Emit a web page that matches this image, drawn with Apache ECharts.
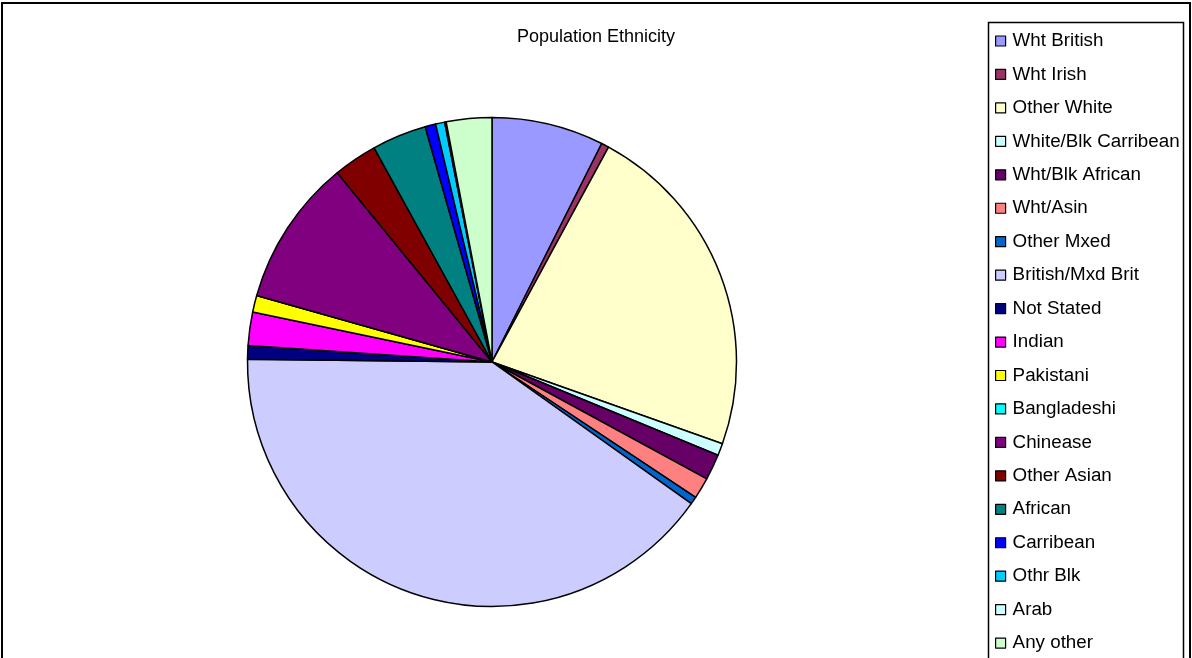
<!DOCTYPE html>
<html>
<head>
<meta charset="utf-8">
<title>Population Ethnicity</title>
<script src="https://cdn.jsdelivr.net/npm/echarts@6/dist/echarts.min.js"></script>
<style>
  html, body { margin: 0; padding: 0; background: #fff; }
  #chart { width: 1192px; height: 658px; }
</style>
</head>
<body>
<div id="chart"></div>
<script>
// Ethnic groups, in the order they are drawn clockwise from 12 o'clock
const categories = [
  'Wht British', 'Wht Irish', 'Other White', 'White/Blk Carribean',
  'Wht/Blk African', 'Wht/Asin', 'Other Mxed', 'British/Mxd Brit',
  'Not Stated', 'Indian', 'Pakistani', 'Bangladeshi', 'Chinease',
  'Other Asian', 'African', 'Carribean', 'Othr Blk', 'Arab', 'Any other'
];

// Share of the population (%)
const shares = [
  7.4, 0.5, 22.5, 0.8,
  1.7, 1.4, 0.5, 40.3,
  0.9, 2.2, 1.1, 0, 9.7,
  2.9, 3.6, 0.7, 0.6, 0.1, 3.0
];

const palette = [
  '#9999FF', '#993366', '#FFFFCC', '#CCFFFF',
  '#660066', '#FF8080', '#0066CC', '#CCCCFF',
  '#000080', '#FF00FF', '#FFFF00', '#00FFFF', '#800080',
  '#800000', '#008080', '#0000FF', '#00CCFF', '#CCFFFF', '#CCFFCC'
];

const chart = echarts.init(document.getElementById('chart'), null, { renderer: 'canvas' });

const fontFamily = '"Liberation Sans", Arial, sans-serif';

chart.setOption({
  animation: false,
  backgroundColor: '#ffffff',
  color: palette,
  title: {
    text: 'Population Ethnicity',
    left: 'center',
    top: 23,
    textStyle: { fontFamily, fontSize: 18, fontWeight: 'normal', color: '#000' }
  },
  graphic: [
    {
      type: 'rect',
      shape: { x: 2, y: 3, width: 1188, height: 700 },
      style: { fill: 'none', stroke: '#000', lineWidth: 2 },
      silent: true
    },
    {
      type: 'rect',
      shape: { x: 988.5, y: 22.5, width: 195, height: 700 },
      style: { fill: 'none', stroke: '#000', lineWidth: 1.5 },
      silent: true
    }
  ],
  legend: {
    orient: 'vertical',
    left: 990,
    top: 26,
    height: 720,
    icon: 'rect',
    itemWidth: 10,
    itemHeight: 10,
    itemGap: 13.45,
    selectedMode: false,
    itemStyle: { borderColor: '#000', borderWidth: 1.2 },
    textStyle: { fontFamily, fontSize: 18.8, color: '#000', lineHeight: 20, padding: [0, 0, 0, 2] },
    data: categories
  },
  series: [
    {
      type: 'pie',
      center: [492, 362],
      radius: 244.5,
      startAngle: 90,
      clockwise: true,
      avoidLabelOverlap: false,
      label: { show: false },
      labelLine: { show: false },
      emphasis: { disabled: true },
      itemStyle: { borderColor: '#000', borderWidth: 1.5 },
      data: categories.map((name, i) => ({ name, value: shares[i] }))
    }
  ]
});
</script>
</body>
</html>
